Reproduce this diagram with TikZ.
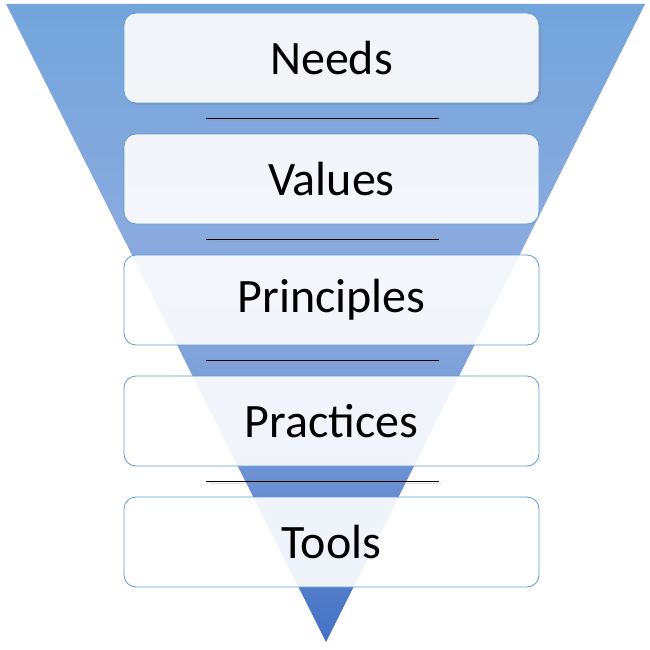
\documentclass[tikz,border=0pt]{standalone}
\usepackage{fontspec}
\setmainfont{Carlito}
\usepackage{xcolor}
\usetikzlibrary{positioning, calc, shadows}

\definecolor{tritop}{RGB}{114,165,220}
\definecolor{triA}{RGB}{138,170,222}
\definecolor{triB}{RGB}{128,162,218}
\definecolor{triC}{RGB}{107,144,210}
\definecolor{triD}{RGB}{79,122,201}
\definecolor{tribot}{RGB}{68,114,196}
\definecolor{edgeblue}{RGB}{91,155,213}

% funnel gradient, light for most of the way down
\pgfdeclareverticalshading{funnel}{100bp}{color(0bp)=(tribot); color(25bp)=(tribot);
  color(28.3bp)=(triD); color(37.7bp)=(triC); color(47.1bp)=(triB);
  color(56.5bp)=(triA); color(75bp)=(tritop); color(100bp)=(tritop)}

\begin{document}
\begin{tikzpicture}[
    x=1pt, y=-1pt,
    font=\fontsize{48}{54}\selectfont,
    tier/.style={rectangle, rounded corners=12pt, draw=edgeblue, line width=0.8pt,
                 fill=white, fill opacity=0.9, text opacity=1,
                 minimum width=415pt, minimum height=90pt, inner sep=0pt},
    sep/.style={black, line width=0.8pt},
    sepshadow/.style={black!40, line width=1.2pt, opacity=0.3},
    node distance=30.2pt
  ]

  \useasboundingbox (0,0) rectangle (650,650);

  % funnel
  \shade[shading=funnel] (6,4) -- (645,4) -- (326,642) -- cycle;

  % tiers
  \node[tier, drop shadow={shadow xshift=2pt, shadow yshift=-2pt, opacity=0.35}]
                                  (needs) at (331.5,58) {Needs};
  \node[tier, below=of needs]     (values) {Values};
  \node[tier, below=of values]    (principles) {Principles};
  \node[tier, below=of principles] (practices) {Practices};
  \node[tier, below=of practices] (tools) {Tools};

  % separators between tiers
  \foreach \a/\b in {needs/values, values/principles, principles/practices, practices/tools}{
    \coordinate (m) at ($(\a.south)!0.5!(\b.north)$);
    \draw[sepshadow] ($(m)+(-122,2)$) -- ($(m)+(110,2)$);
    \draw[sep] ($(m)+(-125.5,0)$) -- ($(m)+(107.5,0)$);
  }

\end{tikzpicture}
\end{document}
